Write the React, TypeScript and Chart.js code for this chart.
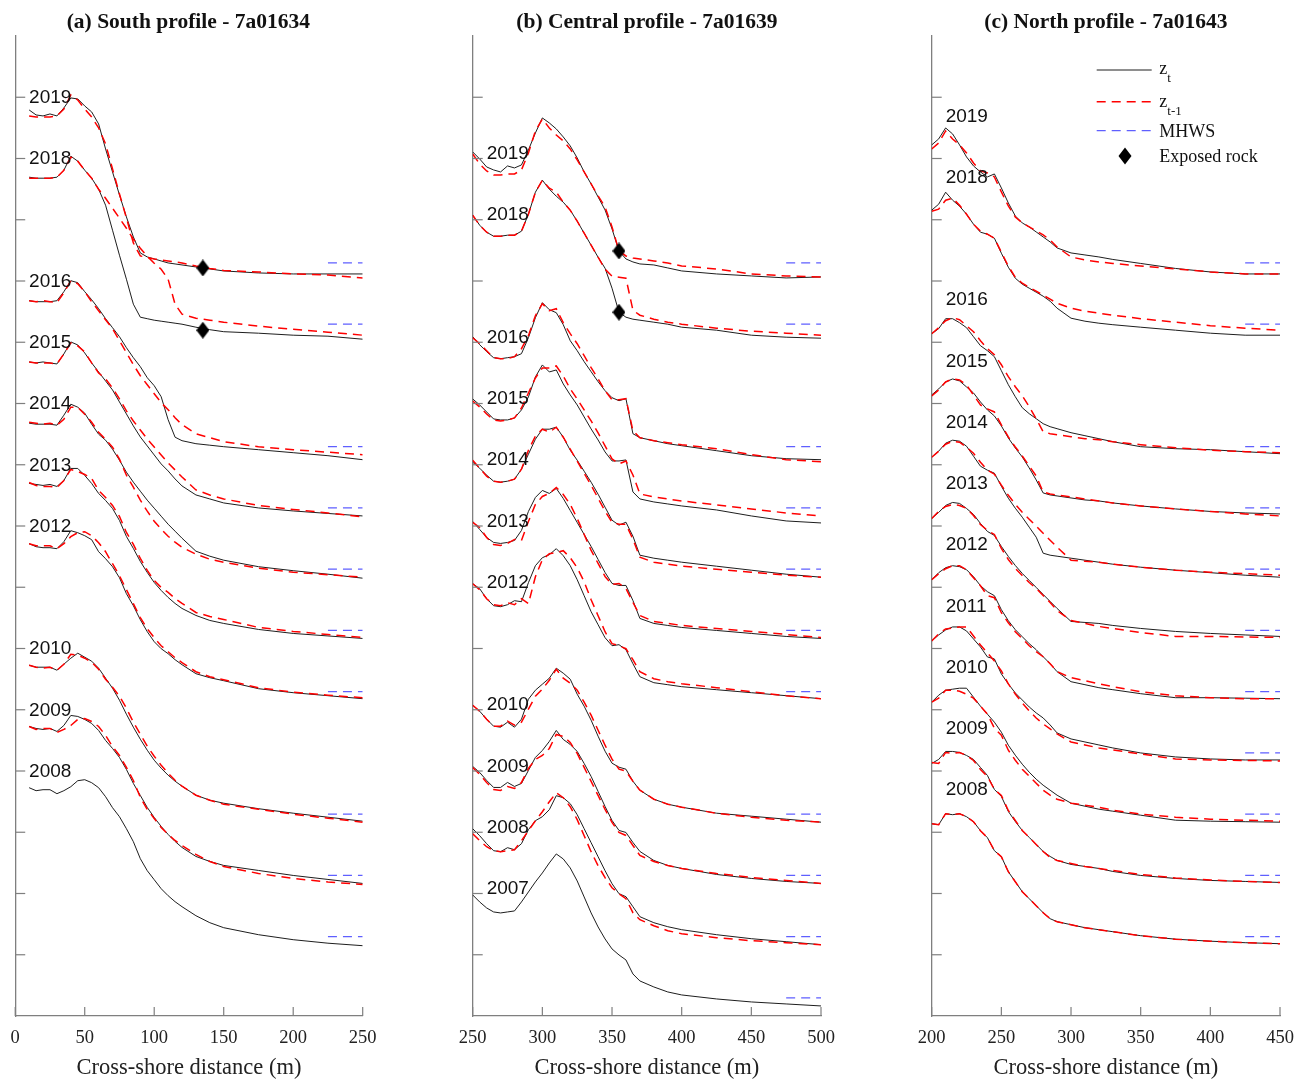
import React, { useEffect, useRef } from 'react';
import { Chart, registerables } from 'chart.js';

Chart.register(...registerables);

// ---------------- shared vertical layout (stacked profiles) ----------------
const Y_MAX = 98;            // axis range 0..98
const YEAR_STEP = 6.125;     // vertical offset between successive years (= one tick)
const MHWS_2008 = 7.93;      // plotted MHWS level of the 2008 profile
const base = (yr: number) => MHWS_2008 + YEAR_STEP * (yr - 2008);

// ---------------- (a) South profile - 7a01634 ----------------
const A_X = [10, 15, 20, 25, 30, 35, 40, 45, 50, 55, 60, 65, 70, 75, 80, 85, 90, 95, 100, 105, 110, 115, 120, 130, 140, 150, 175, 200, 225, 250];
const A_2019 = [15.3, 14.8, 14.7, 14.9, 14.7, 15.5, 16.5, 16.4, 15.7, 15.1, 13.9, 11.4, 9.1, 6.8, 4.6, 2.6, 1.0, 0.6, 0.4, 0.2, 0.0, -0.1, -0.2, -0.4, -0.6, -0.8, -1.0, -1.1, -1.1, -1.1];
const A_2018 = [14.7, 14.6, 14.6, 14.6, 14.7, 15.4, 16.8, 16.3, 15.4, 14.6, 13.5, 11.9, 9.4, 6.9, 4.5, 2.0, 0.7, 0.55, 0.4, 0.3, 0.2, 0.1, 0.0, -0.3, -0.55, -0.75, -0.9, -1.1, -1.2, -1.5];
const A_2017 = [14.6, 14.6, 14.6, 14.6, 14.7, 15.4, 16.7, 16.3, 15.4, 14.6, 13.5, 12.6, 11.6, 10.6, 9.6, 8.5, 7.6, 6.8, 6.1, 5.5, 4.5, 2.0, 1.0, 0.6, 0.4, 0.2, -0.2, -0.5, -0.8, -1.1];
const A_2016 = [14.6, 14.5, 14.5, 14.5, 14.6, 15.5, 16.6, 16.4, 15.5, 14.7, 13.8, 12.8, 11.9, 11.0, 9.9, 8.9, 8.0, 6.9, 6.1, 5.0, 2.7, 0.95, 0.6, 0.3, 0.15, 0.0, -0.3, -0.6, -0.9, -1.3];
const A_2015 = [14.6, 14.5, 14.6, 14.5, 14.4, 15.4, 16.6, 16.3, 15.5, 14.5, 13.6, 12.7, 11.8, 10.6, 9.4, 8.2, 7.1, 6.2, 5.3, 4.4, 3.7, 2.9, 2.2, 1.3, 0.9, 0.5, 0.0, -0.3, -0.55, -0.8];
const A_2014 = [14.6, 14.5, 14.5, 14.5, 14.4, 15.4, 16.5, 16.2, 15.6, 14.5, 13.5, 12.9, 12.0, 10.9, 9.7, 8.7, 7.8, 6.9, 6.1, 5.3, 4.5, 3.8, 3.1, 1.8, 1.3, 0.9, 0.25, -0.15, -0.5, -0.9];
const A_2013 = [14.7, 14.6, 14.5, 14.6, 14.4, 15.0, 16.2, 16.2, 15.5, 14.7, 13.7, 13.0, 12.2, 11.0, 9.4, 8.2, 6.9, 5.8, 4.8, 4.0, 3.3, 2.7, 2.2, 1.5, 1.0, 0.7, 0.1, -0.3, -0.55, -0.8];
const A_2012 = [14.8, 14.5, 14.4, 14.4, 14.3, 15.0, 16.1, 15.9, 15.6, 15.2, 14.0, 13.3, 12.5, 11.4, 9.8, 8.6, 7.2, 6.0, 5.0, 4.3, 3.8, 3.2, 2.7, 1.8, 1.4, 1.1, 0.3, -0.1, -0.4, -0.7];
const A_2011 = [14.8, 14.6, 14.6, 14.6, 14.3, 14.8, 15.5, 15.9, 16.0, 15.6, 14.9, 14.0, 12.8, 11.6, 10.2, 8.8, 7.4, 6.3, 5.4, 4.6, 4.0, 3.4, 2.9, 2.0, 1.5, 1.2, 0.4, -0.05, -0.35, -0.6];
const A_2010 = [14.9, 14.7, 14.7, 14.7, 14.4, 15.0, 15.6, 16.1, 15.7, 15.3, 14.6, 13.6, 12.6, 11.4, 10.0, 8.7, 7.5, 6.4, 5.4, 4.6, 3.9, 3.3, 2.8, 1.9, 1.4, 1.1, 0.55, 0.1, -0.3, -0.7];
const A_2009 = [14.9, 14.7, 14.6, 14.7, 14.4, 15.0, 16.0, 15.9, 15.6, 15.2, 14.5, 13.5, 12.7, 11.8, 10.6, 9.2, 8.0, 6.8, 5.8, 4.9, 4.1, 3.4, 2.8, 1.9, 1.4, 1.0, 0.5, 0.0, -0.4, -0.8];
const A_2008 = [14.9, 14.6, 14.7, 14.7, 14.3, 14.6, 15.0, 15.6, 15.7, 15.4, 14.9, 14.0, 12.9, 12.0, 10.8, 9.5, 7.8, 6.6, 5.7, 4.8, 4.1, 3.5, 3.0, 2.1, 1.4, 0.9, 0.2, -0.3, -0.65, -0.9];
const A_YEARS = [2019, 2018, 2016, 2015, 2014, 2013, 2012, 2010, 2009, 2008];
const A_PREV = [2018, 2017, 2015, 2014, 2013, 2012, 2011, 2009, 2008, null];
const A_ROCK_X = [135, 135];
const A_ROCK_YEAR = [2019, 2018];
const A_ROCK_Z = [-0.5, -0.6];

// ---------------- (b) Central profile - 7a01639 ----------------
const B_X = [250, 255, 260, 265, 270, 275, 280, 285, 290, 295, 300, 305, 310, 315, 320, 325, 330, 335, 340, 345, 350, 355, 360, 365, 370, 380, 390, 400, 425, 450, 475, 500];
const B_2019 = [11.1, 10.4, 9.6, 9.3, 9.1, 9.7, 9.5, 9.8, 11.3, 13.0, 14.5, 14.0, 13.4, 12.6, 11.7, 10.5, 9.1, 7.9, 6.6, 5.3, 3.4, 1.2, 0.4, 0.1, -0.1, -0.2, -0.5, -0.8, -1.1, -1.3, -1.5, -1.4];
const B_2018 = [10.9, 9.9, 9.2, 8.8, 8.8, 8.9, 8.9, 9.3, 11.0, 13.2, 14.4, 13.5, 12.8, 12.2, 11.4, 10.3, 9.1, 7.9, 6.7, 5.6, 3.6, 1.2, 0.7, 0.5, 0.4, 0.2, 0.0, -0.3, -0.6, -1.1, -1.3, -1.4];
const B_2017 = [10.9, 9.9, 9.2, 8.8, 8.8, 8.9, 8.9, 9.3, 11.0, 13.2, 14.4, 13.6, 13.2, 12.2, 11.4, 10.3, 9.1, 7.9, 6.7, 5.5, 4.8, 4.7, 4.6, 1.4, 0.9, 0.5, 0.2, 0.0, -0.4, -0.7, -0.9, -1.1];
const B_2016 = [11.0, 10.2, 9.5, 8.9, 8.8, 8.9, 9.0, 9.3, 10.9, 12.9, 14.4, 13.7, 13.4, 12.2, 10.6, 9.6, 8.5, 7.5, 6.5, 5.6, 4.9, 4.6, 4.8, 1.3, 0.9, 0.6, 0.3, 0.1, -0.4, -0.9, -1.2, -1.3];
const B_2015 = [10.9, 10.3, 9.6, 8.9, 8.8, 8.8, 9.0, 9.8, 11.1, 13.1, 14.3, 13.6, 13.8, 12.4, 11.3, 10.3, 9.1, 7.9, 6.8, 5.6, 4.7, 4.7, 4.8, 1.6, 0.9, 0.6, 0.4, 0.2, -0.2, -0.8, -1.3, -1.5];
const B_2014 = [10.7, 10.1, 9.4, 8.8, 8.7, 8.8, 9.0, 10.0, 11.5, 13.0, 14.0, 14.0, 14.2, 13.2, 11.9, 10.9, 9.8, 8.7, 7.5, 6.2, 4.9, 4.4, 4.7, 3.3, 1.4, 1.1, 0.9, 0.7, 0.3, -0.1, -0.5, -0.8];
const B_2013 = [10.9, 10.1, 9.3, 8.8, 8.7, 8.8, 9.0, 10.0, 11.9, 13.3, 14.0, 13.7, 14.2, 13.2, 12.0, 10.8, 9.6, 8.4, 7.1, 5.8, 4.7, 4.5, 4.5, 3.0, 1.2, 0.7, 0.5, 0.3, 0.0, -0.3, -0.6, -0.8];
const B_2012 = [10.8, 10.3, 9.3, 8.6, 8.5, 8.7, 9.1, 9.0, 10.9, 12.6, 13.4, 13.7, 14.3, 13.6, 12.6, 11.2, 9.6, 8.0, 6.7, 5.4, 4.6, 4.7, 4.2, 2.8, 1.5, 0.9, 0.7, 0.5, 0.2, -0.1, -0.4, -0.7];
const B_2011 = [10.8, 10.2, 9.3, 8.7, 8.6, 8.9, 8.7, 9.3, 8.8, 11.5, 13.2, 13.8, 13.9, 14.1, 13.4, 12.4, 11.0, 9.2, 7.6, 6.0, 4.8, 4.6, 4.3, 3.2, 2.0, 1.3, 1.0, 0.8, 0.4, 0.0, -0.4, -0.7];
const B_2010 = [10.9, 10.3, 9.5, 8.8, 8.7, 9.2, 8.7, 9.5, 11.5, 12.4, 13.0, 13.6, 14.6, 14.1, 13.5, 12.0, 10.8, 9.4, 7.8, 6.3, 5.1, 4.7, 4.5, 3.3, 2.4, 1.5, 1.0, 0.7, 0.1, -0.2, -0.5, -0.8];
const B_2009 = [10.9, 10.3, 9.5, 8.8, 8.8, 9.3, 8.9, 9.2, 10.5, 11.8, 12.5, 13.4, 14.5, 13.6, 13.1, 12.4, 11.2, 9.9, 8.4, 6.9, 5.5, 4.5, 4.3, 3.3, 2.4, 1.5, 1.0, 0.7, 0.1, -0.3, -0.6, -0.8];
const B_2008 = [10.8, 10.1, 9.3, 8.6, 8.5, 8.9, 8.7, 9.3, 10.7, 11.6, 12.0, 12.7, 14.1, 13.9, 13.3, 12.2, 10.8, 9.4, 8.0, 6.6, 5.3, 4.3, 4.0, 3.0, 2.0, 1.4, 1.0, 0.7, 0.2, -0.2, -0.5, -0.8];
const B_2007 = [10.3, 9.6, 9.0, 8.6, 8.5, 8.6, 8.7, 9.6, 10.6, 11.6, 12.5, 13.5, 14.4, 13.9, 13.0, 11.7, 10.1, 8.5, 7.1, 5.9, 4.9, 4.3, 3.8, 2.4, 1.7, 1.1, 0.6, 0.3, -0.1, -0.4, -0.6, -0.8];
const B_YEARS = [2019, 2018, 2016, 2015, 2014, 2013, 2012, 2010, 2009, 2008, 2007];
const B_PREV = [2018, 2017, 2015, 2014, 2013, 2012, 2011, 2009, 2008, 2007, null];
const B_ROCK_X = [355, 355];
const B_ROCK_YEAR = [2019, 2018];
const B_ROCK_Z = [1.2, 1.2];

// ---------------- (c) North profile - 7a01643 ----------------
const C_X = [200, 205, 210, 215, 220, 225, 230, 235, 240, 245, 250, 255, 260, 265, 270, 275, 280, 285, 290, 300, 310, 320, 330, 350, 375, 400, 425, 450];
const C_2019 = [11.8, 12.4, 13.5, 12.9, 11.8, 10.6, 9.7, 9.1, 8.6, 8.9, 7.5, 6.0, 4.7, 4.0, 3.6, 3.1, 2.6, 2.1, 1.5, 1.0, 0.8, 0.6, 0.35, -0.05, -0.55, -0.9, -1.1, -1.1];
const C_2018 = [11.4, 12.0, 13.2, 12.4, 11.8, 11.0, 10.0, 9.2, 9.0, 8.6, 7.1, 5.7, 4.6, 4.0, 3.6, 3.2, 2.8, 2.3, 1.6, 0.6, 0.3, 0.1, -0.05, -0.3, -0.6, -0.9, -1.1, -1.1];
const C_2017 = [11.3, 11.5, 12.4, 12.6, 11.9, 11.0, 10.0, 9.3, 9.0, 8.6, 7.2, 5.8, 4.7, 4.1, 3.7, 3.3, 2.9, 2.5, 2.1, 1.6, 1.3, 1.1, 0.9, 0.55, 0.2, -0.15, -0.4, -0.6];
const C_2016 = [11.3, 11.8, 12.8, 12.8, 12.4, 11.9, 11.0, 10.1, 9.6, 9.0, 7.6, 6.2, 5.0, 3.9, 3.3, 2.8, 2.3, 2.0, 1.8, 1.4, 1.1, 0.8, 0.5, 0.0, -0.2, -0.3, -0.5, -0.7];
const C_2015 = [11.3, 11.9, 12.6, 12.9, 12.7, 12.1, 11.5, 10.6, 9.8, 9.2, 8.2, 7.0, 6.0, 5.1, 4.0, 2.8, 1.5, 1.3, 1.2, 1.0, 0.8, 0.7, 0.5, 0.2, -0.1, -0.35, -0.5, -0.6];
const C_2014 = [11.2, 11.8, 12.6, 12.9, 12.8, 12.3, 11.3, 10.3, 9.9, 9.6, 8.3, 7.1, 6.1, 5.2, 4.2, 3.2, 1.6, 1.4, 1.3, 1.1, 0.9, 0.7, 0.5, 0.2, -0.1, -0.35, -0.6, -0.8];
const C_2013 = [11.2, 11.8, 12.5, 12.8, 12.7, 12.2, 11.6, 10.7, 9.9, 9.5, 8.4, 7.4, 6.5, 5.7, 5.0, 4.3, 3.6, 2.9, 2.2, 0.9, 0.8, 0.7, 0.5, 0.2, -0.1, -0.3, -0.45, -0.6];
const C_2012 = [11.2, 11.9, 12.4, 12.6, 12.5, 12.2, 11.5, 10.6, 10.0, 9.6, 8.2, 7.1, 6.2, 5.5, 4.8, 4.2, 3.5, 2.8, 2.0, 1.0, 0.7, 0.4, 0.2, -0.2, -0.6, -0.6, -0.65, -0.7];
const C_2011 = [11.2, 11.8, 12.3, 12.6, 12.6, 12.2, 11.4, 10.6, 9.6, 9.4, 7.9, 6.9, 6.0, 5.3, 4.6, 4.0, 3.5, 2.8, 2.0, 1.4, 1.1, 0.8, 0.5, 0.0, -0.4, -0.6, -0.7, -0.7];
const C_2010 = [11.2, 11.9, 12.4, 12.5, 12.6, 12.6, 11.7, 10.8, 10.0, 9.2, 8.2, 6.9, 5.9, 5.0, 4.2, 3.5, 2.9, 2.4, 1.9, 1.1, 0.8, 0.5, 0.3, -0.1, -0.6, -0.7, -0.75, -0.8];
const C_2009 = [11.2, 11.6, 12.4, 12.4, 12.3, 12.0, 11.6, 10.8, 10.0, 8.6, 7.9, 6.4, 5.4, 4.5, 3.8, 3.1, 2.4, 1.9, 1.5, 1.1, 0.9, 0.7, 0.4, 0.0, -0.3, -0.5, -0.6, -0.7];
const C_2008 = [11.3, 11.2, 12.3, 12.2, 12.3, 12.0, 11.5, 10.6, 9.9, 8.6, 8.0, 6.5, 5.5, 4.5, 3.8, 3.1, 2.4, 1.8, 1.5, 1.2, 0.9, 0.7, 0.5, 0.1, -0.25, -0.45, -0.6, -0.7];
const C_2007 = [11.3, 11.2, 12.3, 12.2, 12.3, 12.0, 11.5, 10.6, 9.9, 8.6, 8.0, 6.5, 5.5, 4.5, 3.8, 3.1, 2.4, 1.8, 1.5, 1.2, 0.9, 0.7, 0.5, 0.1, -0.25, -0.45, -0.6, -0.7];
const C_YEARS = [2019, 2018, 2016, 2015, 2014, 2013, 2012, 2011, 2010, 2009, 2008];
const C_PREV = [2018, 2017, 2015, 2014, 2013, 2012, 2011, 2010, 2009, 2008, 2007];

// ---------------- styling ----------------
const SERIF = '"Liberation Serif", "Times New Roman", serif';
const SANS = '"Liberation Sans", Arial, sans-serif';
const AXIS = '#7f7f7f';
const BLACK = '#1e1e1e';
const RED = '#ff0000';
const BLUE = 'rgb(95,95,255)';
const H = 1084;

type Panel = {
  title: string;
  xs: number[];
  profiles: Record<number, number[]>;
  years: number[];
  prev: (number | null)[];
  rockX: number[]; rockYear: number[]; rockZ: number[];
  xMin: number; xMax: number; mhwsFrom: number;
  labelX: number; labelDz: number;
  legend: boolean;
  left: number; width: number; padLeft: number; padRight: number;
};

const PANELS: Panel[] = [
  {
    title: '(a) South profile - 7a01634', xs: A_X,
    profiles: { 2019: A_2019, 2018: A_2018, 2017: A_2017, 2016: A_2016, 2015: A_2015, 2014: A_2014, 2013: A_2013, 2012: A_2012, 2011: A_2011, 2010: A_2010, 2009: A_2009, 2008: A_2008 },
    years: A_YEARS, prev: A_PREV, rockX: A_ROCK_X, rockYear: A_ROCK_YEAR, rockZ: A_ROCK_Z,
    xMin: 0, xMax: 250, mhwsFrom: 225, labelX: 10, labelDz: 16.5, legend: false,
    left: 0, width: 436, padLeft: 14, padRight: 73.3,
  },
  {
    title: '(b) Central profile - 7a01639', xs: B_X,
    profiles: { 2019: B_2019, 2018: B_2018, 2017: B_2017, 2016: B_2016, 2015: B_2015, 2014: B_2014, 2013: B_2013, 2012: B_2012, 2011: B_2011, 2010: B_2010, 2009: B_2009, 2008: B_2008, 2007: B_2007 },
    years: B_YEARS, prev: B_PREV, rockX: B_ROCK_X, rockYear: B_ROCK_YEAR, rockZ: B_ROCK_Z,
    xMin: 250, xMax: 500, mhwsFrom: 475, labelX: 260, labelDz: 10.9, legend: false,
    left: 436, width: 440, padLeft: 36.7, padRight: 55,
  },
  {
    title: '(c) North profile - 7a01643', xs: C_X,
    profiles: { 2019: C_2019, 2018: C_2018, 2017: C_2017, 2016: C_2016, 2015: C_2015, 2014: C_2014, 2013: C_2013, 2012: C_2012, 2011: C_2011, 2010: C_2010, 2009: C_2009, 2008: C_2008, 2007: C_2007 },
    years: C_YEARS, prev: C_PREV, rockX: [], rockYear: [], rockZ: [],
    xMin: 200, xMax: 450, mhwsFrom: 425, labelX: 210, labelDz: 14.65, legend: true,
    left: 876, width: 432, padLeft: 55.7, padRight: 28,
  },
];

function makeDiamond(): HTMLCanvasElement {
  const c = document.createElement('canvas');
  c.width = 13; c.height = 17;
  const g = c.getContext('2d')!;
  g.fillStyle = '#000';
  g.beginPath();
  g.moveTo(6.5, 0); g.lineTo(13, 8.5); g.lineTo(6.5, 17); g.lineTo(0, 8.5);
  g.closePath(); g.fill();
  return c;
}

function buildDatasets(p: Panel, diamond: HTMLCanvasElement) {
  const ds: any[] = [];
  if (p.rockX.length) {
    ds.push({
      data: p.rockX.map((x, i) => ({ x, y: base(p.rockYear[i]) + p.rockZ[i] })),
      showLine: false, pointStyle: diamond, pointRadius: 8, borderWidth: 0,
    });
  }
  p.years.forEach((yr, i) => {
    const pv = p.prev[i];
    if (pv == null) return;
    const z = p.profiles[pv];
    ds.push({
      data: p.xs.map((x, k) => ({ x, y: base(yr) + z[k] })),
      borderColor: RED, borderWidth: 1.5, borderDash: [9, 6], pointRadius: 0, fill: false,
    });
  });
  p.years.forEach((yr) => {
    const z = p.profiles[yr];
    ds.push({
      data: p.xs.map((x, k) => ({ x, y: base(yr) + z[k] })),
      borderColor: BLACK, borderWidth: 1, pointRadius: 0, fill: false,
    });
  });
  p.years.forEach((yr) => {
    ds.push({
      data: [{ x: p.mhwsFrom, y: base(yr) }, { x: p.xMax, y: base(yr) }],
      borderColor: BLUE, borderWidth: 1.3, borderDash: [9, 6], pointRadius: 0, fill: false,
    });
  });
  return ds;
}

function decorPlugin(p: Panel) {
  return {
    id: 'decor',
    afterDraw(chart: any) {
      const { ctx, chartArea, scales } = chart;
      const xs = scales.x, ys = scales.y;
      ctx.save();
      // inward tick marks
      ctx.strokeStyle = AXIS;
      ctx.lineWidth = 1.2;
      xs.ticks.forEach((t: any) => {
        const px = xs.getPixelForValue(t.value);
        ctx.beginPath(); ctx.moveTo(px, chartArea.bottom); ctx.lineTo(px, chartArea.bottom - 9); ctx.stroke();
      });
      ys.ticks.forEach((t: any) => {
        if (t.value <= 0.01 || t.value >= Y_MAX - 0.01) return;
        const py = ys.getPixelForValue(t.value);
        ctx.beginPath(); ctx.moveTo(chartArea.left, py); ctx.lineTo(chartArea.left + 10, py); ctx.stroke();
      });
      // year labels
      ctx.fillStyle = '#111';
      ctx.font = `19px ${SANS}`;
      ctx.textAlign = 'left';
      ctx.textBaseline = 'middle';
      p.years.forEach((yr) => {
        ctx.fillText(String(yr), xs.getPixelForValue(p.labelX), ys.getPixelForValue(base(yr) + p.labelDz));
      });
      // legend
      if (p.legend) {
        const L = chartArea.left, T = chartArea.top;
        const x0 = L + 165, x1 = L + 220, tx = L + 227.6;
        ctx.lineWidth = 1;
        ctx.strokeStyle = BLACK; ctx.setLineDash([]);
        ctx.beginPath(); ctx.moveTo(x0, T + 34); ctx.lineTo(x1, T + 34); ctx.stroke();
        ctx.lineWidth = 1.5; ctx.strokeStyle = RED; ctx.setLineDash([9, 6]);
        ctx.beginPath(); ctx.moveTo(x0, T + 65.7); ctx.lineTo(x1, T + 65.7); ctx.stroke();
        ctx.lineWidth = 1.3; ctx.strokeStyle = BLUE;
        ctx.beginPath(); ctx.moveTo(x0, T + 94.7); ctx.lineTo(x1, T + 94.7); ctx.stroke();
        ctx.setLineDash([]);
        // diamond
        const dx = L + 193.3, dy = T + 120;
        ctx.fillStyle = '#000';
        ctx.beginPath(); ctx.moveTo(dx, dy - 8.5); ctx.lineTo(dx + 6.5, dy); ctx.lineTo(dx, dy + 8.5); ctx.lineTo(dx - 6.5, dy); ctx.closePath(); ctx.fill();
        // texts
        ctx.fillStyle = '#111';
        ctx.textBaseline = 'alphabetic';
        ctx.font = `18px ${SERIF}`;
        ctx.fillText('z', tx, T + 38);
        const zw = ctx.measureText('z').width;
        ctx.fillText('z', tx, T + 70.7);
        ctx.fillText('MHWS', tx, T + 100.7);
        ctx.fillText('Exposed rock', tx, T + 125.7);
        ctx.font = `13px ${SERIF}`;
        ctx.fillText('t', tx + zw, T + 45.7);
        ctx.fillText('t-1', tx + zw, T + 79);
      }
      ctx.restore();
    },
  };
}

function PanelChart({ p }: { p: Panel }) {
  const ref = useRef<HTMLCanvasElement>(null);
  useEffect(() => {
    const diamond = makeDiamond();
    const chart = new Chart(ref.current as HTMLCanvasElement, {
      type: 'line',
      data: { datasets: buildDatasets(p, diamond) as any },
      options: {
        responsive: false,
        animation: false,
        devicePixelRatio: 1,
        parsing: false as any,
        normalized: true,
        layout: { padding: { left: p.padLeft, right: p.padRight, top: 0, bottom: 0 } },
        elements: { line: { tension: 0 }, point: { radius: 0, hoverRadius: 0 } },
        events: [],
        plugins: {
          legend: { display: false },
          tooltip: { enabled: false },
          title: {
            display: true, text: p.title, color: '#111',
            font: { family: SERIF, size: 21.5, weight: 'bold', lineHeight: 1.2 },
            padding: { top: 9.1, bottom: 1.1 },
          },
        },
        scales: {
          x: {
            type: 'linear', position: 'bottom', min: p.xMin, max: p.xMax,
            ticks: { stepSize: 50, color: '#222', font: { family: SERIF, size: 18.5 }, padding: 10.6, maxRotation: 0, autoSkip: false },
            grid: { display: false, drawTicks: false },
            border: { display: true, color: AXIS, width: 1.3 },
            title: { display: true, text: 'Cross-shore distance (m)', color: '#222', font: { family: SERIF, size: 22.5 }, padding: { top: 0, bottom: 2.8 } },
            afterFit: (s: any) => { s.height = 68; },
          },
          y: {
            type: 'linear', min: 0, max: Y_MAX,
            ticks: { display: false, stepSize: YEAR_STEP },
            grid: { display: false, drawTicks: false },
            border: { display: true, color: AXIS, width: 1.3 },
            afterFit: (s: any) => { s.width = 0; },
          },
        },
      } as any,
      plugins: [decorPlugin(p)],
    });
    return () => chart.destroy();
  }, [p]);
  return (
    <canvas
      ref={ref}
      width={p.width}
      height={H}
      style={{ position: 'absolute', left: p.left, top: 0, width: p.width, height: H, display: 'block' }}
    />
  );
}

export default function App() {
  return (
    <div style={{ position: 'absolute', left: 0, top: 0, width: 1308, height: H, background: '#fff', overflow: 'hidden' }}>
      {PANELS.map((p) => (
        <PanelChart key={p.title} p={p} />
      ))}
    </div>
  );
}
